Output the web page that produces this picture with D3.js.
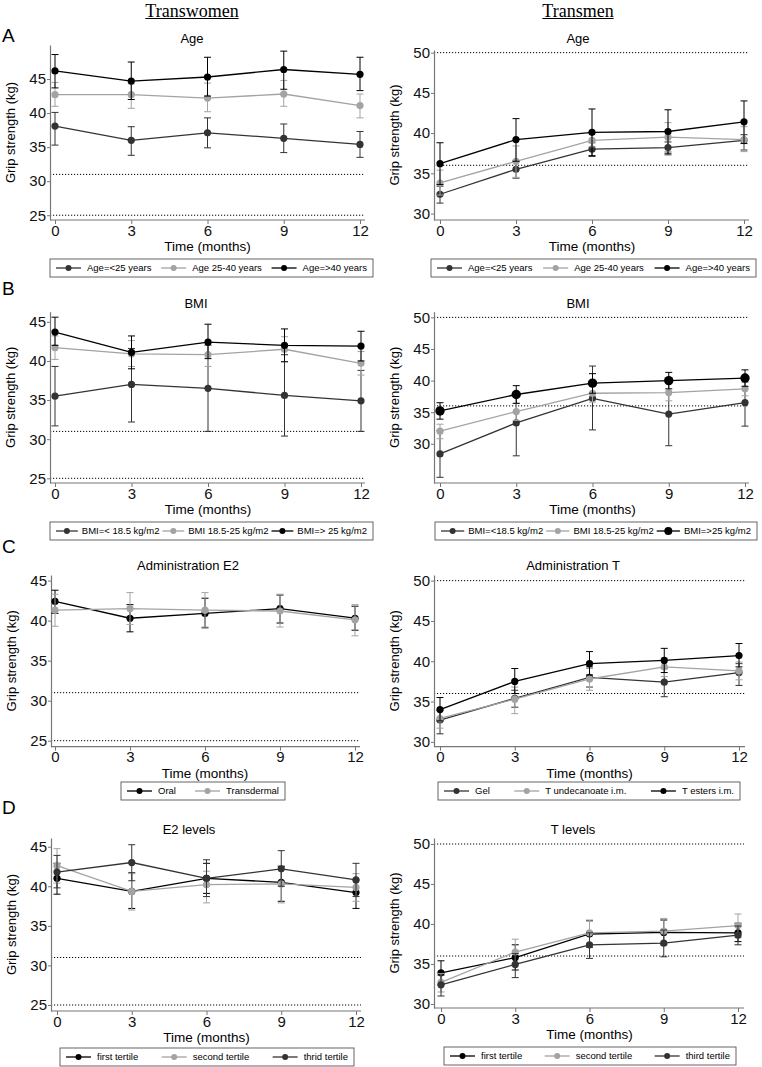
<!DOCTYPE html>
<html>
<head>
<meta charset="utf-8">
<script src="https://cdn.jsdelivr.net/npm/d3@7"></script>
<style>
  body { margin: 0; background: #fff; }
  svg { display: block; font-family: "Liberation Sans", Arial, sans-serif; }
</style>
</head>
<body>
<div id="fig"></div>
<script>
  // time points (months)
  const months = [0, 3, 6, 9, 12];

  // A - age, transwomen
  const twAgeNames = ["Age=<25 years", "Age 25-40 years", "Age=>40 years"];
  const twAgeMean = [[38.1, 36.0, 37.1, 36.3, 35.4], [42.7, 42.7, 42.2, 42.8, 41.1], [46.2, 44.7, 45.3, 46.4, 45.7]];
  const twAgeLow  = [[35.3, 33.8, 34.9, 34.2, 33.5], [41.0, 40.7, 40.2, 41.0, 39.3], [43.7, 42.0, 42.5, 43.5, 43.3]];
  const twAgeHigh = [[40.1, 38.0, 39.3, 38.4, 37.3], [44.5, 44.3, 44.4, 44.8, 42.8], [48.6, 47.5, 48.2, 49.1, 48.2]];

  // A - age, transmen
  const tmAgeNames = ["Age=<25 years", "Age 25-40 years", "Age=>40 years"];
  const tmAgeMean = [[32.4, 35.5, 38.0, 38.2, 39.1], [33.8, 36.5, 39.1, 39.5, 39.2], [36.2, 39.2, 40.1, 40.2, 41.4]];
  const tmAgeLow  = [[31.3, 34.4, 37.1, 37.3, 37.9], [32.3, 34.5, 38.3, 37.7, 37.7], [33.6, 36.5, 37.2, 37.5, 38.7]];
  const tmAgeHigh = [[33.4, 36.5, 38.8, 38.9, 39.8], [35.4, 38.4, 39.9, 41.3, 40.8], [38.8, 41.8, 43.0, 42.9, 44.0]];

  // B - BMI, transwomen
  const twBmiNames = ["BMI=< 18.5 kg/m2", "BMI 18.5-25 kg/m2", "BMI=> 25 kg/m2"];
  const twBmiMean = [[35.5, 37.0, 36.5, 35.6, 34.9], [41.7, 40.9, 40.8, 41.5, 39.7], [43.7, 41.1, 42.4, 42.0, 41.9]];
  const twBmiLow  = [[31.7, 32.2, 31.0, 30.4, 31.0], [40.2, 39.3, 39.3, 39.9, 38.2], [42.0, 39.0, 40.3, 39.9, 40.0]];
  const twBmiHigh = [[39.3, 41.6, 42.0, 40.8, 38.8], [43.2, 42.6, 42.0, 43.1, 41.2], [45.6, 43.2, 44.7, 44.1, 43.8]];

  // B - BMI, transmen
  const tmBmiNames = ["BMI=<18.5 kg/m2", "BMI 18.5-25 kg/m2", "BMI=>25 kg/m2"];
  const tmBmiMean = [[28.4, 33.3, 37.2, 34.7, 36.5], [32.0, 35.1, 38.0, 38.1, 38.7], [35.2, 37.8, 39.6, 40.0, 40.4]];
  const tmBmiLow  = [[24.7, 28.1, 32.2, 29.7, 32.8], [30.8, 33.7, 36.6, 36.8, 37.6], [33.9, 36.4, 38.0, 38.7, 39.1]];
  const tmBmiHigh = [[32.1, 37.7, 42.3, 39.8, 40.1], [33.1, 36.4, 39.6, 39.6, 39.7], [36.5, 39.2, 41.1, 41.3, 41.7]];

  // C - administration, transwomen
  const twAdmNames = ["Oral", "Transdermal"];
  const twAdmMean = [[42.4, 40.3, 40.9, 41.5, 40.3], [41.3, 41.5, 41.3, 41.2, 40.1]];
  const twAdmLow  = [[40.9, 38.6, 39.1, 39.7, 38.8], [39.3, 39.5, 39.2, 39.2, 38.1]];
  const twAdmHigh = [[43.8, 42.0, 42.8, 43.2, 41.8], [43.3, 43.5, 43.5, 43.3, 42.0]];

  // C - administration, transmen
  const tmAdmNames = ["Gel", "T undecanoate i.m.", "T esters i.m."];
  const tmAdmMean = [[32.7, 35.4, 38.0, 37.4, 38.6], [32.9, 35.3, 37.8, 39.3, 38.8], [34.0, 37.5, 39.7, 40.1, 40.7]];
  const tmAdmLow  = [[31.0, 34.3, 36.8, 35.6, 37.0], [31.7, 33.5, 36.4, 38.1, 37.7], [32.6, 36.0, 38.3, 38.6, 39.3]];
  const tmAdmHigh = [[33.9, 36.4, 39.3, 39.1, 39.7], [33.9, 36.8, 39.1, 40.4, 39.9], [35.5, 39.1, 41.2, 41.6, 42.2]];

  // D - hormone levels, transwomen (E2)
  const twLvlNames = ["first tertile", "second tertile", "thrid tertile"];
  const twLvlMean = [[41.0, 39.35, 41.0, 40.5, 39.2], [42.6, 39.35, 40.2, 40.3, 39.85], [41.8, 43.0, 41.0, 42.2, 40.8]];
  const twLvlLow  = [[39.0, 37.2, 39.1, 38.1, 37.2], [40.4, 37.0, 37.9, 37.9, 38.1], [39.8, 40.7, 38.7, 40.0, 38.7]];
  const twLvlHigh = [[42.9, 41.7, 42.9, 42.5, 40.8], [44.75, 41.6, 41.9, 42.6, 41.6], [43.9, 45.25, 43.35, 44.5, 42.9]];

  // D - hormone levels, transmen (T)
  const tmLvlNames = ["first tertile", "second tertile", "third tertile"];
  const tmLvlMean = [[33.9, 35.8, 38.75, 38.95, 38.9], [32.7, 36.5, 38.9, 39.1, 39.8], [32.4, 34.95, 37.4, 37.6, 38.6]];
  const tmLvlLow  = [[32.4, 34.25, 37.1, 37.4, 37.8], [31.5, 35.0, 37.4, 37.5, 38.3], [31.0, 33.3, 35.7, 35.9, 37.4]];
  const tmLvlHigh = [[35.4, 37.4, 40.4, 40.5, 40.1], [33.8, 38.1, 40.5, 40.7, 41.25], [33.6, 36.3, 38.9, 39.25, 39.75]];

  const twTicks = [25, 30, 35, 40, 45];
  const tmTicks = [30, 35, 40, 45, 50];
  const twRefs = [25, 31];
  const tmRefs = [36, 50];

  // marker styles
  const styles = {
    black: { color: "#000", r: 3.6, lr: 3 },
    dark:  { color: "#333", r: 3.6, lr: 3 },
    grey:  { color: "#a3a3a3", r: 3.6, lr: 3 },
    big:   { color: "#000", r: 4.7, lr: 4 }
  };

  const panels = [
    { title: "Age", names: twAgeNames, mean: twAgeMean, low: twAgeLow, high: twAgeHigh, st: ["dark", "grey", "black"],
      ticks: twTicks, refs: twRefs, axisX: 50, xl: 55, xr: 360, right: 365, top: 45, bottom: 220, dom: [24.3, 50.0],
      tx: 192, ty: 43, legend: [50, 373, 259, 277] },
    { title: "Age", names: tmAgeNames, mean: tmAgeMean, low: tmAgeLow, high: tmAgeHigh, st: ["dark", "grey", "black"],
      ticks: tmTicks, refs: tmRefs, axisX: 434, xl: 440, xr: 744, right: 749, top: 50, bottom: 220, dom: [29.2, 50.33],
      tx: 578, ty: 43, legend: [431, 756, 259, 277] },
    { title: "BMI", names: twBmiNames, mean: twBmiMean, low: twBmiLow, high: twBmiHigh, st: ["dark", "grey", "black"],
      ticks: twTicks, refs: twRefs, axisX: 50, xl: 55, xr: 361, right: 365, top: 311.7, bottom: 483, dom: [24.4, 46.3],
      tx: 196, ty: 308, legend: [50, 373, 522, 540] },
    { title: "BMI", names: tmBmiNames, mean: tmBmiMean, low: tmBmiLow, high: tmBmiHigh, st: ["dark", "grey", "big"],
      ticks: tmTicks, refs: tmRefs, axisX: 434, xl: 440, xr: 745, right: 749, top: 311.7, bottom: 483, dom: [23.8, 50.9],
      tx: 578, ty: 308, legend: [435, 757, 522, 540] },
    { title: "Administration E2", names: twAdmNames, mean: twAdmMean, low: twAdmLow, high: twAdmHigh, st: ["black", "grey"],
      ticks: twTicks, refs: twRefs, axisX: 51, xl: 55, xr: 355, right: 360, top: 575, bottom: 746.7, dom: [24.25, 45.7],
      tx: 188, ty: 570, legend: [121, 285, 782, 800] },
    { title: "Administration T", names: tmAdmNames, mean: tmAdmMean, low: tmAdmLow, high: tmAdmHigh, st: ["dark", "grey", "black"],
      ticks: tmTicks, refs: tmRefs, axisX: 434, xl: 440, xr: 739, right: 745, top: 575, bottom: 746.7, dom: [29.4, 50.7],
      tx: 573, ty: 570, legend: [438, 740, 782, 800] },
    { title: "E2 levels", names: twLvlNames, mean: twLvlMean, low: twLvlLow, high: twLvlHigh, st: ["black", "grey", "dark"],
      ticks: twTicks, refs: twRefs, axisX: 51, xl: 57, xr: 356, right: 361, top: 838, bottom: 1011, dom: [24.24, 46.1],
      tx: 189, ty: 834, legend: [60, 354, 1048, 1066] },
    { title: "T levels", names: tmLvlNames, mean: tmLvlMean, low: tmLvlLow, high: tmLvlHigh, st: ["black", "grey", "dark"],
      ticks: tmTicks, refs: tmRefs, axisX: 434, xl: 441, xr: 738, right: 744, top: 838, bottom: 1008, dom: [29.5, 50.75],
      tx: 573, ty: 834, legend: [444, 736, 1047, 1065] }
  ];

  const svg = d3.select("#fig").append("svg")
    .attr("width", 762)
    .attr("height", 1067);

  // column headers
  [["Transwomen", 192], ["Transmen", 578]].forEach(([t, cx]) => {
    const txt = svg.append("text")
      .attr("x", cx).attr("y", 16.5)
      .attr("text-anchor", "middle")
      .style("font-family", "'Liberation Serif', 'Times New Roman', serif")
      .style("font-size", "18px")
      .text(t);
    const w = txt.node().getComputedTextLength();
    svg.append("line")
      .attr("x1", cx - w / 2).attr("x2", cx + w / 2)
      .attr("y1", 18.5).attr("y2", 18.5)
      .attr("stroke", "#000").attr("stroke-width", 1);
  });

  // panel letters
  [["A", 42], ["B", 295], ["C", 553], ["D", 814]].forEach(([l, y]) => {
    svg.append("text").attr("x", 2).attr("y", y)
      .style("font-size", "19px").text(l);
  });

  function drawPanel(p) {
    const g = svg.append("g");
    const x = d3.scaleLinear().domain([0, 12]).range([p.xl, p.xr]);
    const y = d3.scaleLinear().domain(p.dom).range([p.bottom, p.top]);

    // dotted reference lines
    g.selectAll(".ref").data(p.refs).join("line")
      .attr("x1", p.axisX).attr("x2", p.right)
      .attr("y1", d => y(d)).attr("y2", d => y(d))
      .attr("stroke", "#000").attr("stroke-width", 1)
      .attr("stroke-dasharray", "1.2,1.8");

    // y axis
    const ya = g.append("g")
      .attr("transform", `translate(${p.axisX},0)`)
      .call(d3.axisLeft(y).tickValues(p.ticks).tickSize(3).tickSizeOuter(0).tickPadding(1));
    ya.select(".domain").attr("stroke", "#777").attr("stroke-width", 1.2);
    ya.selectAll(".tick line").attr("stroke", "#777");
    ya.selectAll("text").style("font-size", "15px").attr("fill", "#111");

    // x axis
    const xa = g.append("g")
      .attr("transform", `translate(0,${p.bottom})`)
      .call(d3.axisBottom(x).tickValues(months).tickSize(4).tickSizeOuter(0).tickPadding(1));
    xa.select(".domain").remove();
    xa.selectAll(".tick line").attr("stroke", "#777");
    xa.selectAll("text").style("font-size", "15px").attr("fill", "#111");
    g.append("line")
      .attr("x1", p.axisX).attr("x2", p.right)
      .attr("y1", p.bottom).attr("y2", p.bottom)
      .attr("stroke", "#777").attr("stroke-width", 1.2);

    // titles and axis labels
    g.append("text").attr("x", p.tx).attr("y", p.ty)
      .attr("text-anchor", "middle").style("font-size", "13px").text(p.title);
    g.append("text").attr("x", (p.xl + p.xr) / 2).attr("y", p.bottom + 31)
      .attr("text-anchor", "middle").style("font-size", "13.5px").text("Time (months)");
    g.append("text")
      .attr("transform", `translate(${p.axisX - 35},${(p.top + p.bottom) / 2}) rotate(-90)`)
      .attr("text-anchor", "middle").style("font-size", "13px").text("Grip strength (kg)");

    // series: error bars, lines, markers
    const line = d3.line().x((d, i) => x(months[i])).y(d => y(d));
    p.mean.forEach((m, s) => {
      const st = styles[p.st[s]];
      const pts = months.map((t, i) => ({ t, lo: p.low[s][i], hi: p.high[s][i] }));
      const eb = g.append("g").attr("stroke", st.color).attr("stroke-width", 1);
      eb.selectAll(".v").data(pts).join("line")
        .attr("x1", d => x(d.t)).attr("x2", d => x(d.t))
        .attr("y1", d => y(d.lo)).attr("y2", d => y(d.hi));
      eb.selectAll(".cl").data(pts).join("line")
        .attr("x1", d => x(d.t) - 3.5).attr("x2", d => x(d.t) + 3.5)
        .attr("y1", d => y(d.lo)).attr("y2", d => y(d.lo));
      eb.selectAll(".ch").data(pts).join("line")
        .attr("x1", d => x(d.t) - 3.5).attr("x2", d => x(d.t) + 3.5)
        .attr("y1", d => y(d.hi)).attr("y2", d => y(d.hi));
      g.append("path").datum(m)
        .attr("d", line)
        .attr("fill", "none").attr("stroke", st.color).attr("stroke-width", 1.3);
      g.selectAll(null).data(m).join("circle")
        .attr("cx", (d, i) => x(months[i])).attr("cy", d => y(d))
        .attr("r", st.r).attr("fill", st.color);
    });

    // legend
    const [lx0, lx1, ly0, ly1] = p.legend;
    const lg = g.append("g");
    lg.append("rect")
      .attr("x", lx0).attr("y", ly0)
      .attr("width", lx1 - lx0).attr("height", ly1 - ly0)
      .attr("fill", "#fff").attr("stroke", "#555").attr("stroke-width", 0.9);
    const cy = (ly0 + ly1) / 2;
    const pad = 6;
    // shorter keys when the row is crowded
    let key = 25;
    const widths = p.names.map(n => {
      const t = lg.append("text").style("font-size", "9.5px").text(n);
      const w = t.node().getComputedTextLength();
      t.remove();
      return w;
    });
    const room = lx1 - lx0 - 2 * pad - d3.sum(widths);
    if (room - p.names.length * (key + 6) < (p.names.length - 1) * 3) {
      key = Math.max(16, (room - (p.names.length - 1) * 3) / p.names.length - 4);
    }
    const gapTxt = key >= 25 ? 6 : 4;
    const total = d3.sum(widths) + p.names.length * (key + gapTxt);
    const gap = p.names.length > 1 ? (lx1 - lx0 - 2 * pad - total) / (p.names.length - 1) : 0;
    let cx = lx0 + pad;
    p.names.forEach((n, s) => {
      const st = styles[p.st[s]];
      const it = lg.append("g").attr("transform", `translate(${cx},0)`);
      it.append("line").attr("x1", 0).attr("x2", key).attr("y1", cy).attr("y2", cy)
        .attr("stroke", st.color).attr("stroke-width", 1.3);
      it.append("circle").attr("cx", key / 2).attr("cy", cy).attr("r", st.lr)
        .attr("fill", st.color);
      it.append("text").attr("x", key + gapTxt).attr("y", cy).attr("dy", "0.35em")
        .style("font-size", "9.5px").text(n);
      cx += key + gapTxt + widths[s] + gap;
    });
  }

  panels.forEach(drawPanel);
</script>
</body>
</html>
